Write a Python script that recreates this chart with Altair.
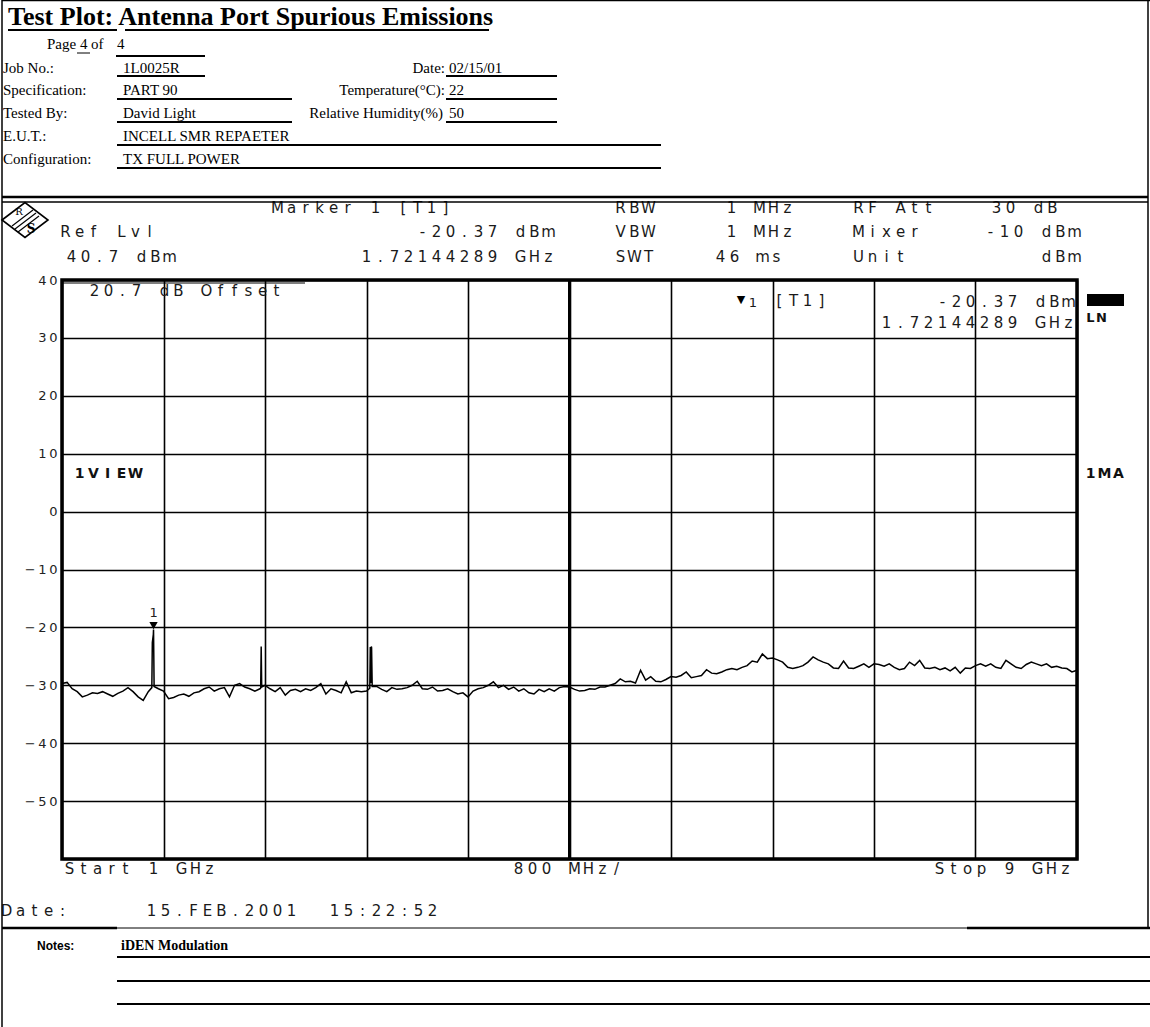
import altair as alt
import pandas as pd

# ---- spectrum analyzer sweep: 1 GHz .. 9 GHz, 800 MHz/div, levels in dBm ----
START_GHZ = 1.0
STEP_GHZ = 0.04

trace_dbm = [
    # 1.00 .. 1.96 GHz
    -29.7, -29.5, -30.6, -31.1, -32.0, -31.7, -31.3, -31.4, -31.1, -31.5, -31.9, -31.4, -31.0,
    -30.4, -31.1, -32.0, -32.6, -31.1, -21.2, -30.6, -31.0, -32.3, -32.1, -31.7, -31.5,
    # 2.00 .. 2.96 GHz
    -31.9, -31.3, -31.1, -30.6, -30.3, -31.0, -30.6, -30.4, -32.0, -30.0, -29.7, -30.3, -30.6,
    -31.0, -30.6, -30.0, -30.6, -31.1, -30.4, -31.7, -30.9, -30.7, -31.1, -30.6, -30.9,
    # 3.00 .. 3.96 GHz
    -30.4, -29.7, -31.5, -30.6, -30.9, -31.3, -29.4, -31.3, -31.0, -31.1, -31.0, -23.5, -30.2,
    -30.7, -31.1, -30.4, -30.7, -30.6, -30.4, -30.0, -29.3, -30.6, -30.7, -30.3, -31.0,
    # 4.00 .. 4.96 GHz
    -30.9, -30.6, -31.1, -31.5, -31.3, -32.0, -31.0, -30.6, -30.4, -30.0, -29.4, -30.4, -30.0,
    -30.7, -30.3, -31.0, -30.6, -31.3, -31.5, -30.7, -31.1, -30.6, -31.0, -30.4, -30.2,
    # 5.00 .. 5.96 GHz
    -30.3, -30.7, -31.0, -30.9, -30.6, -30.7, -30.3, -30.3, -30.0, -29.7, -28.9, -29.4, -29.3,
    -29.6, -27.4, -29.1, -28.5, -29.3, -29.4, -29.0, -28.5, -28.6, -28.3, -27.7, -28.7,
    # 6.00 .. 6.96 GHz
    -28.5, -28.3, -27.3, -27.9, -28.0, -27.7, -27.3, -27.1, -27.3, -26.9, -26.6, -25.8, -26.0,
    -24.6, -25.4, -25.3, -25.6, -26.0, -26.9, -27.1, -26.9, -26.6, -26.0, -25.1, -25.6,
    # 7.00 .. 7.96 GHz
    -26.0, -26.3, -27.0, -27.1, -25.8, -27.0, -27.1, -26.7, -26.3, -26.9, -26.3, -26.4, -26.7,
    -26.3, -26.9, -27.3, -27.1, -26.0, -26.6, -25.7, -27.0, -27.1, -26.9, -27.3, -27.0,
    # 8.00 .. 8.96 GHz
    -27.5, -26.9, -27.9, -27.0, -27.1, -26.6, -26.3, -26.7, -26.3, -26.9, -27.1, -25.7, -26.3,
    -26.9, -27.1, -26.4, -26.0, -26.3, -26.6, -26.3, -26.9, -26.7, -27.0, -27.1, -27.7,
    # 9.00 GHz
    -27.4,
]

# narrow spurs between sweep points
spur_ghz = [1.708, 1.712, 1.7214, 1.726, 2.566, 2.570, 2.574,
            3.426, 3.430, 3.434, 3.438, 3.445]
spur_dbm = [-30.4, -22.6, -20.37, -30.2, -30.5, -23.3, -30.3,
            -30.5, -23.4, -29.6, -23.3, -30.2]

MARKER_GHZ = 1.7214
MARKER_DBM = -20.37

grid_ghz = [1.0, 1.8, 2.6, 3.4, 4.2, 5.0, 5.8, 6.6, 7.4, 8.2, 9.0]
grid_dbm = [40, 30, 20, 10, 0, -10, -20, -30, -40, -50, -60]

# ---- page geometry ----
OX, OY = 62, 280          # top-left corner of the graticule on the page
W, H = 1015, 579          # graticule size
PAGE_W, PAGE_H = 1150, 1027

sweep_ghz = [round(START_GHZ + STEP_GHZ * i, 3) for i in range(len(trace_dbm))]
trace_df = pd.DataFrame({"ghz": sweep_ghz + spur_ghz, "dbm": trace_dbm + spur_dbm})
trace_df = trace_df.sort_values("ghz").reset_index(drop=True)
marker_df = pd.DataFrame({"ghz": [MARKER_GHZ], "dbm": [MARKER_DBM]})
one = pd.DataFrame({"k": [0]})

x_scale = alt.Scale(domain=[1, 9], nice=False, zero=False)
y_scale = alt.Scale(domain=[-60, 40], nice=False, zero=False)

THIN = "\u2009"
y_label_expr = (
    "datum.value == -60 ? '' : join(split((datum.value < 0 ? '\u2212' : '') + abs(datum.value), ''), '"
    + THIN + "')"
)

SCREEN_FONT = "DejaVu Sans"

trace = alt.Chart(trace_df).mark_line(color="black", strokeWidth=1.5).encode(
    x=alt.X("ghz:Q", scale=x_scale,
            axis=alt.Axis(values=grid_ghz, grid=True, labels=False, ticks=False,
                          domain=False, title=None, gridColor="black", gridWidth=1.6,
                          gridOpacity=1)),
    y=alt.Y("dbm:Q", scale=y_scale,
            axis=alt.Axis(values=grid_dbm, grid=True, ticks=False, domain=False,
                          title=None, gridColor="black", gridWidth=1.6, gridOpacity=1,
                          labelExpr=y_label_expr, labelFont=SCREEN_FONT,
                          labelFontSize=13, labelColor="#222", labelPadding=5)),
)

center_line = alt.Chart(one).mark_rule(color="black", strokeWidth=3).encode(
    x=alt.datum(5.0, scale=x_scale)
)

marker_tri = alt.Chart(marker_df).mark_point(
    shape="triangle-down", filled=True, color="black", size=70, yOffset=-4, opacity=1
).encode(x=alt.X("ghz:Q", scale=x_scale), y=alt.Y("dbm:Q", scale=y_scale))

marker_num = alt.Chart(marker_df).mark_text(
    text="1", dy=-17, font=SCREEN_FONT, fontSize=13, color="#222"
).encode(x=alt.X("ghz:Q", scale=x_scale), y=alt.Y("dbm:Q", scale=y_scale))


# ---- analyzer screen annotations (fixed character pitch) ----
def char_rows(lines, pitch=14.0, glyph=9.0):
    rows = []
    for text, x0, y0 in lines:
        for i, ch in enumerate(text):
            if ch != " ":
                rows.append({"ch": ch, "px": x0 + glyph / 2 + i * pitch - OX, "py": y0 - OY})
    return pd.DataFrame(rows)


screen_lines = [
    ("Marker 1 [T1]", 273, 208),
    ("RBW", 616, 208), ("1 MHz", 727, 208), ("RF Att", 854, 208), ("30 dB", 992, 208),
    ("Ref Lvl", 61, 232), ("-20.37 dBm", 418, 232),
    ("VBW", 616, 232), ("1 MHz", 727, 232), ("Mixer", 854, 232), ("-10 dBm", 986, 232),
    ("40.7 dBm", 67, 257), ("1.72144289 GHz", 362, 257),
    ("SWT", 616, 257), ("46 ms", 716, 257), ("Unit", 854, 257), ("dBm", 1042, 257),
    ("20.7 dB Offset", 90, 291),
    ("[T1]", 775, 301),
    ("-20.37 dBm", 938, 302),
    ("1.72144289 GHz", 882, 323),
    ("Start 1 GHz", 65, 869),
    ("800 MHz/", 514, 869),
    ("Stop 9 GHz", 935, 869),
    ("Date:", 2, 911),
    ("15.FEB.2001", 147, 911),
    ("15:22:52", 330, 911),
]
bold_lines = [("1VIEW", 75, 474), ("1MA", 1086, 474)]

screen_text = alt.Chart(char_rows(screen_lines)).mark_text(
    font=SCREEN_FONT, fontSize=15, color="#1a1a1a", align="center", baseline="middle"
).encode(
    x=alt.X("px:Q", scale=None, axis=None),
    y=alt.Y("py:Q", scale=None, axis=None),
    text="ch:N",
)
bold_text = alt.Chart(char_rows(bold_lines)).mark_text(
    font=SCREEN_FONT, fontSize=14, fontWeight="bold", color="#111",
    align="center", baseline="middle"
).encode(
    x=alt.X("px:Q", scale=None, axis=None),
    y=alt.Y("py:Q", scale=None, axis=None),
    text="ch:N",
)
ln_text = alt.Chart(char_rows([("LN", 1086, 318)], pitch=11.0)).mark_text(
    font=SCREEN_FONT, fontSize=13, fontWeight="bold", color="#111",
    align="center", baseline="middle"
).encode(
    x=alt.X("px:Q", scale=None, axis=None),
    y=alt.Y("py:Q", scale=None, axis=None),
    text="ch:N",
)


# ---- helpers for page furniture, in page pixels ----
def txt(s, x, y, size=15, font="Liberation Serif", weight="normal", align="left",
        color="black", baseline="middle"):
    return alt.Chart(one).mark_text(
        text=s, font=font, fontSize=size, fontWeight=weight, align=align,
        baseline=baseline, color=color
    ).encode(x=alt.value(x - OX), y=alt.value(y - OY))


def hline(x1, x2, y, w=1.5):
    return alt.Chart(one).mark_rule(color="black", strokeWidth=w).encode(
        x=alt.value(x1 - OX), x2=alt.value(x2 - OX), y=alt.value(y - OY))


def vline(x, y1, y2, w=1.5):
    return alt.Chart(one).mark_rule(color="black", strokeWidth=w).encode(
        x=alt.value(x - OX), y=alt.value(y1 - OY), y2=alt.value(y2 - OY))


def seg(x1, y1, x2, y2, w=1.2):
    return alt.Chart(one).mark_rule(color="black", strokeWidth=w).encode(
        x=alt.value(x1 - OX), y=alt.value(y1 - OY),
        x2=alt.value(x2 - OX), y2=alt.value(y2 - OY))


furniture = [
    # test report header
    txt("Test Plot: Antenna Port Spurious Emissions", 8, 17, size=26, weight="bold"),
    hline(8, 117, 30, 2), hline(125, 489, 30, 2),
    txt("Page", 47, 44), txt("4", 80, 44), txt("of", 91, 44), txt("4", 117, 44),
    hline(77, 90, 53, 1), hline(116, 205, 56, 2),
    txt("Job No.:", 3, 68), txt("1L0025R", 123, 68), hline(117, 205, 76, 2),
    txt("Date:", 445, 68, align="right"), txt("02/15/01", 449, 68), hline(446, 557, 76, 2),
    txt("Specification:", 3, 90), txt("PART 90", 123, 90), hline(117, 292, 99, 2),
    txt("Temperature(\u00b0C):", 445, 90, align="right"), txt("22", 449, 90),
    hline(446, 557, 99, 2),
    txt("Tested By:", 3, 113), txt("David Light", 123, 113), hline(117, 292, 122, 2),
    txt("Relative Humidity(%)", 443, 113, align="right"), txt("50", 449, 113),
    hline(446, 557, 122, 2),
    txt("E.U.T.:", 3, 136), txt("INCELL SMR REPAETER", 123, 136), hline(117, 661, 145, 2),
    txt("Configuration:", 3, 159), txt("TX FULL POWER", 123, 159), hline(117, 661, 168, 2),
    # page frame
    vline(2, 0, PAGE_H, 1.5), vline(1148, 0, 928, 1.5), hline(2, 1150, 0.5, 1.5),
    hline(2, 1148, 197, 2.5), hline(2, 1148, 202, 1.5),
    # notes block
    hline(2, 1150, 928, 1), hline(2, 117, 928, 2.5), hline(967, 1150, 928, 2.5),
    txt("Notes:", 37, 946, size=12, font="Liberation Sans", weight="bold"),
    txt("iDEN Modulation", 121, 946, size=14, weight="bold"),
    hline(117, 1150, 957, 2), hline(117, 1150, 981, 2), hline(117, 1150, 1004, 2),
    # offset box on the graticule
    hline(62, 305, 283, 1.2),
    # marker info symbol and level indicator
    txt("\u25bc", 741, 300, size=11, font="DejaVu Sans", align="center"),
    txt("1", 753, 303, size=13, font=SCREEN_FONT, align="center", color="#1a1a1a"),
    alt.Chart(one).mark_rect(color="black").encode(
        x=alt.value(1087 - OX), x2=alt.value(1124 - OX),
        y=alt.value(294 - OY), y2=alt.value(306 - OY)),
    # instrument logo
    alt.Chart(one).mark_point(
        shape="M-1,0L0,-0.76L1,0L0,0.76Z", size=2116, filled=False, color="black",
        strokeWidth=1.6, opacity=1
    ).encode(x=alt.value(25 - OX), y=alt.value(220 - OY)),
    seg(12, 226, 33, 210), seg(15, 229, 36, 213), seg(18, 232, 39, 216),
    txt("R", 19, 212, size=10, font="DejaVu Serif", align="center"),
    txt("S", 31, 229, size=12, font="DejaVu Serif", weight="bold", align="center"),
]

chart = alt.layer(
    trace, center_line, marker_tri, marker_num, screen_text, bold_text, ln_text, *furniture
).properties(
    width=W, height=H,
    padding={"left": OX, "top": OY, "right": PAGE_W - OX - W, "bottom": PAGE_H - OY - H},
    autosize=alt.AutoSizeParams(type="none"),
    background="white",
).configure_view(stroke="black", strokeWidth=3.5)

chart.save("out.html", embed_options={"renderer": "svg", "actions": False})
